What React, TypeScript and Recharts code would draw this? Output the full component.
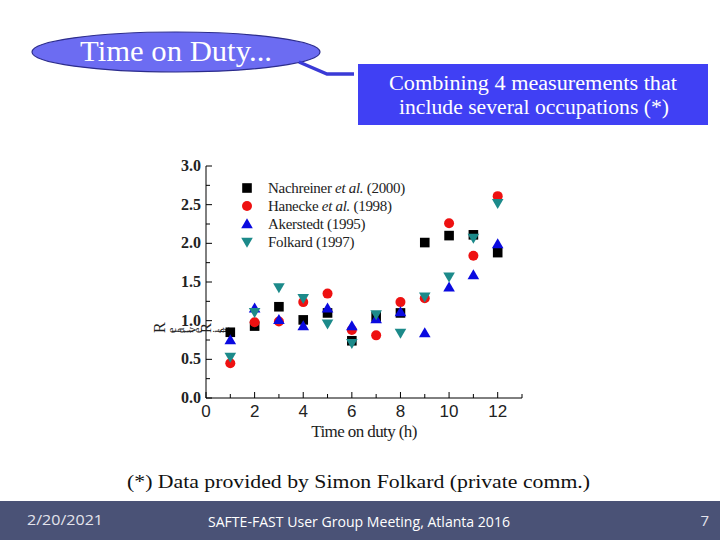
import React from 'react';
import { ScatterChart, Scatter, XAxis, YAxis } from 'recharts';

// hours on duty
const hours = [1, 2, 3, 4, 5, 6, 7, 8, 9, 10, 11, 12];

// relative risk per study
const nachreiner = [0.85, 0.93, 1.18, 1.01, 1.1, 0.74, 1.05, 1.1, 2.01, 2.1, 2.11, 1.88];
const hanecke = [0.45, 0.98, 0.99, 1.24, 1.35, 0.88, 0.81, 1.24, 1.29, 2.26, 1.84, 2.61];
const akerstedt = [0.75, 1.16, 1.01, 0.93, 1.16, 0.93, 1.02, 1.11, 0.84, 1.43, 1.59, 1.99];
const folkard = [0.53, 1.11, 1.43, 1.29, 0.96, 0.71, 1.08, 0.84, 1.31, 1.57, 2.07, 2.52];

const seriesNames = ['Nachreiner et al. (2000)', 'Hanecke et al. (1998)', 'Akerstedt (1995)', 'Folkard (1997)'];
const seriesColors = ['#000000', '#ee1111', '#0a0ae0', '#1c8a8a'];
const seriesShapes = ['square', 'circle', 'up', 'down'];

const xTicks = [0, 1, 2, 3, 4, 5, 6, 7, 8, 9, 10, 11, 12, 13];
const yTicks = [0, 0.25, 0.5, 0.75, 1, 1.25, 1.5, 1.75, 2, 2.25, 2.5, 2.75, 3];

const toPoints = (vals: number[]) => hours.map((h, i) => ({ x: h, y: vals[i] }));
const allSeries = [nachreiner, hanecke, akerstedt, folkard].map(toPoints);

const serif = '"Liberation Serif", "Times New Roman", serif';
const sans = '"Liberation Sans", Arial, sans-serif';

function Marker({ kind, cx, cy, color }: { kind: string; cx: number; cy: number; color: string }) {
  if (kind === 'square') return <rect x={cx - 4.8} y={cy - 4.8} width={9.6} height={9.6} fill={color} />;
  if (kind === 'circle') return <circle cx={cx} cy={cy} r={5} fill={color} />;
  if (kind === 'up') return <polygon points={`${cx},${cy - 5.8} ${cx + 5.8},${cy + 4.2} ${cx - 5.8},${cy + 4.2}`} fill={color} />;
  return <polygon points={`${cx},${cy + 5.8} ${cx + 5.8},${cy - 4.2} ${cx - 5.8},${cy - 4.2}`} fill={color} />;
}

const BottomTick = (props: any) => {
  const { x, y, payload } = props;
  const v = payload.value;
  const major = v % 2 === 0 && v <= 12;
  return (
    <g>
      <line x1={x} y1={y} x2={x} y2={y - (major ? 6 : 4)} stroke="#000" />
      {major && (
        <text x={x} y={y + 19} textAnchor="middle" fontFamily={sans} fontSize={17} fill="#222">
          {v}
        </text>
      )}
    </g>
  );
};

const TopTick = (props: any) => {
  const { x, y, payload } = props;
  const major = payload.value % 2 === 0;
  return <line x1={x} y1={y} x2={x} y2={y + (major ? 6 : 4)} stroke="#000" />;
};

const LeftTick = (props: any) => {
  const { x, y, payload } = props;
  const v = payload.value;
  const major = Math.abs(v * 2 - Math.round(v * 2)) < 1e-6;
  return (
    <g>
      <line x1={x} y1={y} x2={x + (major ? 6 : 4)} y2={y} stroke="#000" />
      {major && (
        <text x={x - 5} y={y + 5} textAnchor="end" fontFamily={serif} fontSize={16} fontWeight="bold" fill="#222">
          {v.toFixed(1)}
        </text>
      )}
    </g>
  );
};

const RightTick = (props: any) => {
  const { x, y, payload } = props;
  const v = payload.value;
  const major = Math.abs(v * 2 - Math.round(v * 2)) < 1e-6;
  return <line x1={x} y1={y} x2={x - (major ? 6 : 4)} y2={y} stroke="#000" />;
};

function LegendBox() {
  return (
    <div style={{ position: 'absolute', left: 240, top: 179, fontFamily: serif, fontSize: 15, color: '#222' }}>
      {seriesNames.map((name, i) => {
        const parts = name.split('et al.');
        return (
          <div key={name} style={{ display: 'flex', alignItems: 'center', height: 18 }}>
            <svg width={14} height={14} style={{ marginRight: 14 }}>
              <Marker kind={seriesShapes[i]} cx={7} cy={7} color={seriesColors[i]} />
            </svg>
            <span style={{ letterSpacing: -0.3, whiteSpace: 'nowrap' }}>
              {parts.length > 1 ? (
                <>
                  {parts[0]}
                  <i>et al.</i>
                  {parts[1]}
                </>
              ) : (
                name
              )}
            </span>
          </div>
        );
      })}
    </div>
  );
}

const YLabel = () => (
  <text x={165} y={333} rotate={-90} fontFamily={serif} fill="#222">
    <tspan fontSize={16}>R</tspan>
    <tspan fontSize={12}>elative </tspan>
    <tspan fontSize={15}>R</tspan>
    <tspan fontSize={12}>isk</tspan>
  </text>
);

export default function App() {
  return (
    <div style={{ position: 'fixed', left: 0, top: 0, width: 720, height: 540, background: '#fff', overflow: 'hidden' }}>
      <div style={{ position: 'absolute', left: 0, top: 0 }}>
        <ScatterChart width={720} height={540} margin={{ top: 166, right: 198, bottom: 102, left: 166 }}>
          <XAxis
            xAxisId={0}
            type="number"
            dataKey="x"
            domain={[0, 13]}
            ticks={xTicks}
            interval={0}
            height={40}
            tickSize={0}
            tickMargin={0}
            tick={<BottomTick />}
            axisLine={{ stroke: '#000' }}
            allowDataOverflow
            label={{ value: 'Time on duty (h)', position: 'insideBottom', offset: 1, fontFamily: serif, fontSize: 17, fill: '#222', letterSpacing: -0.6 } as any}
          />
          <XAxis
            xAxisId="top"
            orientation="top"
            type="number"
            domain={[0, 13]}
            ticks={xTicks}
            interval={0}
            height={0}
            tickSize={0}
            tickMargin={0}
            tick={<TopTick />}
            axisLine={{ stroke: '#000' }}
            allowDataOverflow
          />
          <YAxis
            yAxisId={0}
            type="number"
            dataKey="y"
            domain={[0, 3]}
            ticks={yTicks}
            interval={0}
            width={40}
            tickSize={0}
            tickMargin={0}
            tick={<LeftTick />}
            axisLine={{ stroke: '#000' }}
            allowDataOverflow
            label={{ content: <YLabel /> } as any}
          />
          <YAxis
            yAxisId="right"
            orientation="right"
            type="number"
            domain={[0, 3]}
            ticks={yTicks}
            interval={0}
            width={0}
            tickSize={0}
            tickMargin={0}
            tick={<RightTick />}
            axisLine={{ stroke: '#000' }}
            allowDataOverflow
          />
          {allSeries.map((pts, i) => (
            <Scatter
              key={seriesNames[i]}
              name={seriesNames[i]}
              data={pts}
              fill={seriesColors[i]}
              isAnimationActive={false}
              shape={(p: any) => <Marker kind={seriesShapes[i]} cx={p.cx} cy={p.cy} color={seriesColors[i]} />}
            />
          ))}
        </ScatterChart>
      </div>

      <LegendBox />

      <svg width={720} height={540} style={{ position: 'absolute', left: 0, top: 0, pointerEvents: 'none' }}>
        <ellipse cx={176} cy={52} rx={144} ry={20} fill="#6c6cf2" stroke="#2c2c8c" strokeWidth={1.2} />
        <text x={80} y={61} fontFamily={serif} fontSize={29} fill="#fff" textLength={192} lengthAdjust="spacingAndGlyphs">
          Time on Duty...
        </text>
        <polyline points="299,62 327,74 354,74" fill="none" stroke="#3a3ad6" strokeWidth={3.5} />
        <rect x={358} y={64} width={350} height={61} fill="#4040f4" />
        <text x={389} y={90} fontFamily={serif} fontSize={20} fill="#fff" textLength={288} lengthAdjust="spacingAndGlyphs">
          Combining 4 measurements that
        </text>
        <text x={399} y={114} fontFamily={serif} fontSize={20} fill="#fff" textLength={270} lengthAdjust="spacingAndGlyphs">
          include several occupations (*)
        </text>
        <text x={127} y={488} fontFamily={serif} fontSize={19} fill="#111" textLength={463} lengthAdjust="spacingAndGlyphs">
          (*) Data provided by Simon Folkard (private comm.)
        </text>
        <rect x={0} y={501} width={720} height={39} fill="#4a5276" />
        <text x={27} y={525} fontFamily={'"Open Sans", sans-serif'} fontSize={15} fill="#e4e4ec" textLength={76} lengthAdjust="spacingAndGlyphs">
          2/20/2021
        </text>
        <text x={208} y={527} fontFamily={'"Open Sans", sans-serif'} fontSize={14} fill="#ffffff" textLength={302} lengthAdjust="spacingAndGlyphs">
          SAFTE-FAST User Group Meeting, Atlanta 2016
        </text>
        <text x={709} y={526} textAnchor="end" fontFamily={'"Open Sans", sans-serif'} fontSize={15} fill="#e4e4ec">
          7
        </text>
      </svg>
    </div>
  );
}
